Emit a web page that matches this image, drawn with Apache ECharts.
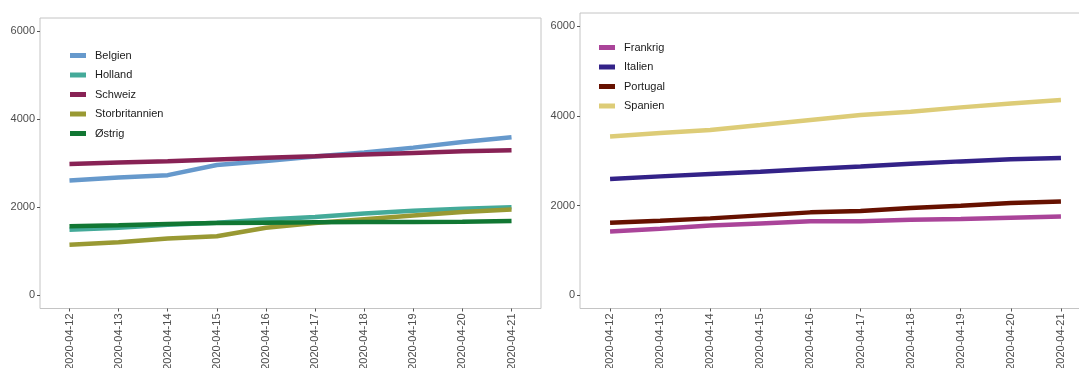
<!DOCTYPE html>
<html>
<head>
<meta charset="utf-8">
<script src="https://cdn.jsdelivr.net/npm/echarts@6/dist/echarts.min.js"></script>
<style>html,body{margin:0;padding:0;background:#fff}#c{width:1079px;height:368px}</style>
</head>
<body>
<div id="c"></div>
<script>
const dates = ['2020-04-12','2020-04-13','2020-04-14','2020-04-15','2020-04-16','2020-04-17','2020-04-18','2020-04-19','2020-04-20','2020-04-21'];
const yTicks = [0, 2000, 4000, 6000];

const belgien = [2610, 2675, 2730, 2960, 3050, 3155, 3245, 3355, 3485, 3590];
const holland = [1490, 1535, 1600, 1650, 1720, 1780, 1860, 1920, 1965, 2000];
const schweiz = [2985, 3015, 3045, 3085, 3125, 3160, 3200, 3235, 3270, 3295];
const storbritannien = [1146, 1206, 1290, 1343, 1535, 1640, 1730, 1813, 1890, 1950];
const ostrig = [1570, 1590, 1620, 1640, 1650, 1660, 1665, 1665, 1670, 1690];

const frankrig = [1422, 1482, 1556, 1601, 1646, 1646, 1683, 1698, 1727, 1757];
const italien = [2591, 2651, 2703, 2755, 2815, 2874, 2934, 2986, 3031, 3060];
const portugal = [1616, 1660, 1713, 1780, 1847, 1876, 1943, 1996, 2055, 2092];
const spanien = [3544, 3619, 3686, 3797, 3909, 4021, 4095, 4192, 4281, 4356];

const leftSeries = [
  ['Belgien', belgien, '#6699CC'],
  ['Holland', holland, '#44AA99'],
  ['Schweiz', schweiz, '#882255'],
  ['Storbritannien', storbritannien, '#999933'],
  ['Østrig', ostrig, '#117733']
];
const rightSeries = [
  ['Frankrig', frankrig, '#AA4499'],
  ['Italien', italien, '#332288'],
  ['Portugal', portugal, '#661100'],
  ['Spanien', spanien, '#DDCC77']
];

const font = 'Liberation Sans, Arial, sans-serif';
const tickIdx = dates.map((d, i) => i);

function xAxis(gi) {
  return {
    type: 'value', gridIndex: gi, min: -0.6, max: 9.6, position: 'bottom',
    axisLine: {show: false, onZero: false},
    splitLine: {show: false},
    axisTick: {show: true, length: 3, lineStyle: {color: '#555'}, customValues: tickIdx},
    axisLabel: {
      customValues: tickIdx, rotate: 90, margin: 5,
      formatter: v => dates[Math.round(v)] || '',
      color: '#4d4d4d', fontSize: 11, fontFamily: font
    }
  };
}
function yAxis(gi) {
  return {
    type: 'value', gridIndex: gi, min: -300, max: 6300, position: 'left',
    axisLine: {show: false, onZero: false},
    splitLine: {show: false},
    axisTick: {show: true, length: 3, lineStyle: {color: '#555'}, customValues: yTicks},
    axisLabel: {customValues: yTicks, margin: 5, formatter: v => String(v), color: '#4d4d4d', fontSize: 11, fontFamily: font}
  };
}
function mkSeries(list, gi) {
  return list.map(([name, vals, color]) => ({
    name, type: 'line', xAxisIndex: gi, yAxisIndex: gi,
    data: vals.map((v, i) => [i, v]),
    showSymbol: false, symbol: 'none',
    lineStyle: {width: 4.5, color, cap: 'butt'},
    itemStyle: {color},
    emphasis: {disabled: true},
    animation: false
  }));
}
function legend(list, left, top) {
  return {
    orient: 'vertical', left, top, padding: 0,
    data: list.map(s => s[0]),
    icon: 'rect', itemWidth: 16, itemHeight: 5, itemGap: 8.5,
    textStyle: {color: '#1a1a1a', fontSize: 11, fontFamily: font, padding: [0, 0, 0, 4]},
    selectedMode: false
  };
}

const chart = echarts.init(document.getElementById('c'), null, {renderer: 'canvas'});
chart.setOption({
  animation: false,
  backgroundColor: '#fff',
  grid: [
    {left: 40, top: 18, width: 501, height: 290.5, show: true, borderColor: '#c4c4c4', borderWidth: 1, backgroundColor: 'transparent', outerBoundsMode: 'none', containLabel: false},
    {left: 580, top: 13, width: 511, height: 295.5, show: true, borderColor: '#c4c4c4', borderWidth: 1, backgroundColor: 'transparent', outerBoundsMode: 'none', containLabel: false}
  ],
  xAxis: [xAxis(0), xAxis(1)],
  yAxis: [yAxis(0), yAxis(1)],
  legend: [legend(leftSeries, 70, 50), legend(rightSeries, 599, 42)],
  series: mkSeries(leftSeries, 0).concat(mkSeries(rightSeries, 1))
});
</script>
</body>
</html>
